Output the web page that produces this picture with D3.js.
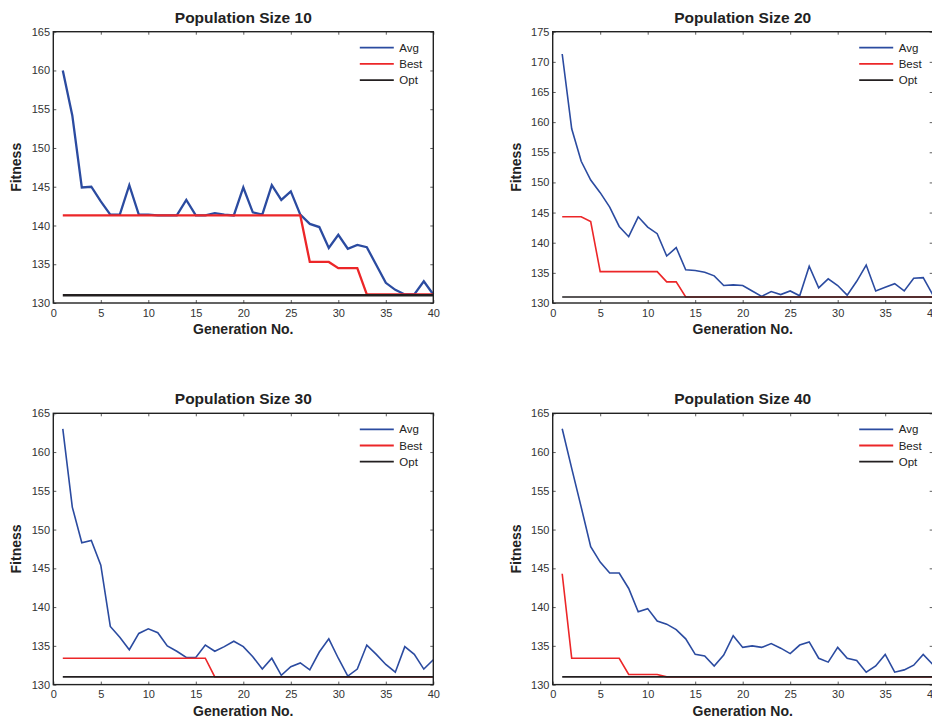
<!DOCTYPE html>
<meta charset="utf-8">
<script src="https://d3js.org/d3.v7.min.js"></script>
<style>
  body { margin: 0; background: #fff; }
  text { font-family: "Liberation Sans", Arial, sans-serif; }
</style>
<body>
<svg id="vis" width="932" height="719"></svg>
<script>
// data
var generations = [1,2,3,4,5,6,7,8,9,10,11,12,13,14,15,16,17,18,19,20,
                   21,22,23,24,25,26,27,28,29,30,31,32,33,34,35,36,37,38,39,40];
var xTicks = [0,5,10,15,20,25,30,35,40];
var yTicks165 = [130,135,140,145,150,155,160,165];
var yTicks175 = [130,135,140,145,150,155,160,165,170,175];
var titles = ["Population Size 10","Population Size 20","Population Size 30","Population Size 40"];
var legendLabels = ["Avg","Best","Opt"];

var avg10 = [160.0,154.2,144.9,145.0,143.1,141.4,141.4,145.2,141.4,141.4,141.3,141.3,141.3,143.3,141.3,141.3,141.6,141.4,141.3,144.9,
             141.7,141.4,145.2,143.3,144.4,141.4,140.2,139.8,137.1,138.8,137.0,137.5,137.2,134.9,132.6,131.7,131.1,131.1,132.8,131.1];
var best10 = [141.3,141.3,141.3,141.3,141.3,141.3,141.3,141.3,141.3,141.3,141.3,141.3,141.3,141.3,141.3,141.3,141.3,141.3,141.3,141.3,
              141.3,141.3,141.3,141.3,141.3,141.3,135.3,135.3,135.3,134.5,134.5,134.5,131.1,131.1,131.1,131.1,131.1,131.1,131.1,131.1];
var opt10 = 131;

var avg20 = [171.3,158.9,153.5,150.4,148.3,145.9,142.7,141.0,144.3,142.6,141.5,137.8,139.2,135.5,135.4,135.1,134.5,132.9,133.0,132.9,
             132.0,131.1,131.9,131.4,132.0,131.2,136.1,132.5,134.0,132.9,131.3,133.6,136.3,132.0,132.6,133.2,132.0,134.1,134.2,131.4];
var best20 = [144.3,144.3,144.3,143.5,135.2,135.2,135.2,135.2,135.2,135.2,135.2,133.5,133.5,131.0,131.0,131.0,131.0,131.0,131.0,131.0,
              131.0,131.0,131.0,131.0,131.0,131.0,131.0,131.0,131.0,131.0,131.0,131.0,131.0,131.0,131.0,131.0,131.0,131.0,131.0,131.0];
var opt20 = 131;

var avg30 = [163.0,152.9,148.3,148.6,145.4,137.5,136.1,134.5,136.6,137.2,136.7,135.0,134.3,133.5,133.5,135.1,134.3,134.9,135.6,134.9,
             133.6,132.0,133.4,131.2,132.3,132.8,131.9,134.2,135.9,133.4,131.1,132.0,135.1,133.9,132.6,131.6,134.9,133.9,132.0,133.2];
var best30 = [133.4,133.4,133.4,133.4,133.4,133.4,133.4,133.4,133.4,133.4,133.4,133.4,133.4,133.4,133.4,133.4,131.0,131.0,131.0,131.0,
              131.0,131.0,131.0,131.0,131.0,131.0,131.0,131.0,131.0,131.0,131.0,131.0,131.0,131.0,131.0,131.0,131.0,131.0,131.0,131.0];
var opt30 = 131;

var avg40 = [163.0,157.9,152.9,147.8,145.8,144.4,144.4,142.4,139.4,139.8,138.2,137.8,137.1,135.9,133.9,133.7,132.4,133.8,136.3,134.8,
             135.0,134.8,135.3,134.7,134.0,135.1,135.5,133.4,132.9,134.8,133.4,133.1,131.6,132.4,133.9,131.6,131.9,132.5,133.9,132.6];
var best40 = [144.3,133.4,133.4,133.4,133.4,133.4,133.4,131.3,131.3,131.3,131.3,131.0,131.0,131.0,131.0,131.0,131.0,131.0,131.0,131.0,
              131.0,131.0,131.0,131.0,131.0,131.0,131.0,131.0,131.0,131.0,131.0,131.0,131.0,131.0,131.0,131.0,131.0,131.0,131.0,131.0];
var opt40 = 131;

var colors = ["#2b4ba0", "#ec2628", "#231f20"];

// panel layout
var panels = [
  {title: titles[0], avg: avg10, best: best10, opt: opt10, yTicks: yTicks165, left: 53.3,  top: 31.7,  lw: 2.3},
  {title: titles[1], avg: avg20, best: best20, opt: opt20, yTicks: yTicks175, left: 552.7, top: 31.7,  lw: 1.6},
  {title: titles[2], avg: avg30, best: best30, opt: opt30, yTicks: yTicks165, left: 53.3,  top: 413.3, lw: 1.6},
  {title: titles[3], avg: avg40, best: best40, opt: opt40, yTicks: yTicks165, left: 552.7, top: 413.3, lw: 1.6}
];
var width = 380, height = 271.3;

var svg = d3.select("#vis");

panels.forEach(function(p) {
  var g = svg.append("g")
    .attr("transform", "translate(" + p.left + "," + p.top + ")");

  var x = d3.scaleLinear().domain([xTicks[0], xTicks[xTicks.length - 1]]).range([0, width]);
  var y = d3.scaleLinear().domain([p.yTicks[0], p.yTicks[p.yTicks.length - 1]]).range([height, 0]);

  // axes with inward ticks on all four sides
  var xb = g.append("g").attr("transform", "translate(0," + height + ")")
    .call(d3.axisBottom(x).tickValues(xTicks).tickSizeInner(-3).tickSizeOuter(0).tickPadding(6));
  var yl = g.append("g")
    .call(d3.axisLeft(y).tickValues(p.yTicks).tickSizeInner(-3).tickSizeOuter(0).tickPadding(3.3));
  var xt = g.append("g")
    .call(d3.axisTop(x).tickValues(xTicks).tickSizeInner(-3).tickSizeOuter(0).tickFormat(""));
  var yr = g.append("g").attr("transform", "translate(" + width + ",0)")
    .call(d3.axisRight(y).tickValues(p.yTicks).tickSizeInner(-3).tickSizeOuter(0).tickFormat(""));

  [xb, yl, xt, yr].forEach(function(a) {
    a.select(".domain").remove();
    a.selectAll("line").attr("stroke", "#333").attr("stroke-width", 0.8);
    a.selectAll("text").attr("fill", "#333").style("font-size", "11px")
      .style("font-family", "'Liberation Sans', Arial, sans-serif");
  });

  // lines
  var line = d3.line()
    .x(function(d) { return x(d[0]); })
    .y(function(d) { return y(d[1]); });

  var series = [
    generations.map(function(gen, i) { return [gen, p.avg[i]]; }),
    generations.map(function(gen, i) { return [gen, p.best[i]]; }),
    [[generations[0], p.opt], [generations[generations.length - 1], p.opt]]
  ];

  series.forEach(function(s, i) {
    g.append("path")
      .datum(s)
      .attr("d", line)
      .attr("fill", "none")
      .attr("stroke", colors[i])
      .attr("stroke-width", p.lw)
      .attr("stroke-linejoin", "miter");
  });

  // box
  g.append("rect")
    .attr("width", width).attr("height", height)
    .attr("fill", "none").attr("stroke", "#222").attr("stroke-width", 1.4);

  // legend
  legendLabels.forEach(function(lab, i) {
    var ly = 16 + i * 16.2;
    g.append("line")
      .attr("x1", 306.5).attr("x2", 340.5)
      .attr("y1", ly).attr("y2", ly)
      .attr("stroke", colors[i]).attr("stroke-width", 1.8);
    g.append("text")
      .attr("x", 346).attr("y", ly)
      .attr("dy", "0.36em")
      .attr("fill", "#222")
      .style("font-size", "11.5px")
      .text(lab);
  });

  // title and axis labels
  g.append("text")
    .attr("x", width / 2).attr("y", -9)
    .attr("text-anchor", "middle")
    .attr("fill", "#222")
    .style("font-size", "15.5px").style("font-weight", "bold")
    .text(p.title);

  g.append("text")
    .attr("x", width / 2).attr("y", height + 31.5)
    .attr("text-anchor", "middle")
    .attr("fill", "#222")
    .style("font-size", "14px").style("font-weight", "bold")
    .text("Generation No.");

  g.append("text")
    .attr("transform", "translate(-32," + (height / 2) + ") rotate(-90)")
    .attr("text-anchor", "middle")
    .attr("fill", "#222")
    .style("font-size", "14px").style("font-weight", "bold")
    .text("Fitness");
});
</script>
</body>
